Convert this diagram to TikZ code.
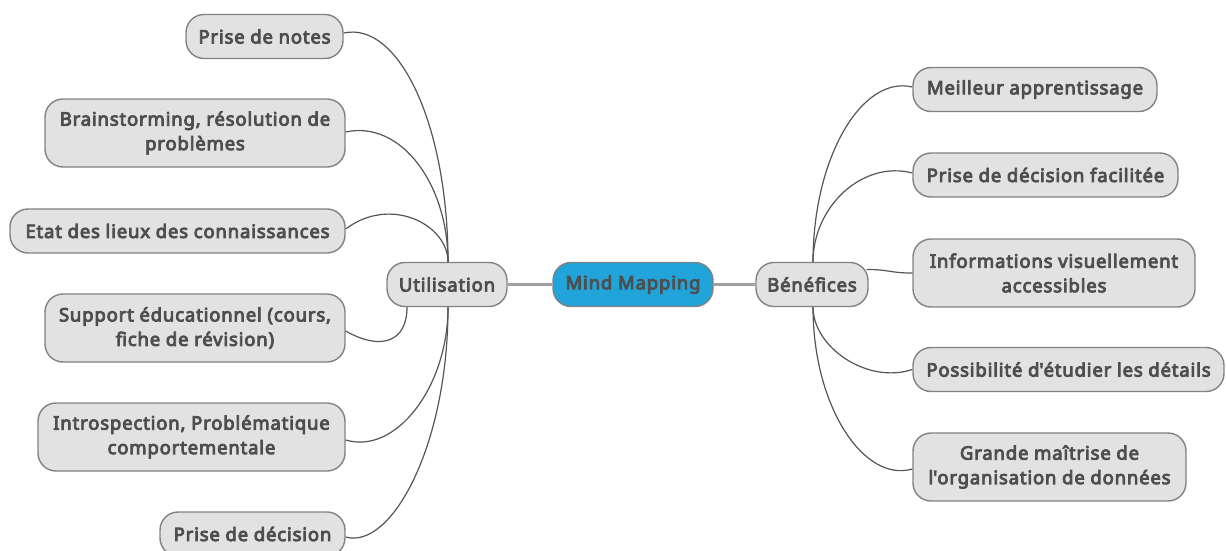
\documentclass[tikz,border=0pt]{standalone}
\usepackage{fontspec}
\setmainfont{Noto Sans}[BoldFont={Noto Sans}, BoldFeatures={FakeBold=4.6, LetterSpace=4.5}]
\definecolor{boxc}{RGB}{226,226,226}
\definecolor{bordc}{RGB}{130,130,130}
\definecolor{txtc}{RGB}{78,78,78}
\definecolor{centc}{RGB}{32,164,218}
\definecolor{linkc}{RGB}{85,85,85}
\definecolor{mainlc}{RGB}{160,160,160}
\begin{document}
\begin{tikzpicture}[x=1pt,y=-1pt,
  box/.style={draw=bordc, fill=boxc, line width=1.4pt, rounded corners=18pt, text=txtc,
    font=\fontsize{18.5}{24.5}\selectfont\bfseries, align=center, inner sep=0pt, minimum height=44pt},
  twoline/.style={box, minimum height=68pt},
  link/.style={draw=linkc, line width=1.2pt},
  mainlink/.style={draw=mainlc, line width=2.8pt}]
\useasboundingbox (0,0) rectangle (1226,551);

% center and branches
\node[box, fill=centc, minimum width=160pt] (mind) at (633,284.5) {Mind Mapping};
\node[box, minimum width=120pt] (util) at (447,284.5) {Utilisation};
\node[box, minimum width=112pt] (bene) at (812,284.5) {Bénéfices};

% left children
\node[box, minimum width=157pt] (notes) at (264.5,36.5) {Prise de notes};
\node[twoline, minimum width=300pt] (brain) at (195,133) {Brainstorming, résolution de\\problèmes};
\node[box, minimum width=335pt] (etat) at (177.5,231) {Etat des lieux des connaissances};
\node[twoline, minimum width=300pt] (support) at (195,328) {Support éducationnel (cours,\\fiche de révision)};
\node[twoline, minimum width=307pt] (intro) at (191.5,437) {Introspection, Problématique\\comportementale};
\node[box, minimum width=185pt] (decis) at (252.5,534) {Prise de décision};

% right children
\node[box, minimum width=244pt] (meil) at (1035,89.5) {Meilleur apprentissage};
\node[box, minimum width=265pt] (facil) at (1045.5,175) {Prise de décision facilitée};
\node[twoline, minimum width=282pt] (info) at (1054,273) {Informations visuellement\\accessibles};
\node[box, minimum width=311pt] (poss) at (1068.5,369.5) {Possibilité d\textquotesingle étudier les détails};
\node[twoline, minimum width=273pt] (grande) at (1049.5,467) {Grande maîtrise de\\l\textquotesingle organisation de données};

% main links
\draw[mainlink] (util.east) -- (mind.west);
\draw[mainlink] (mind.east) -- (bene.west);

% anchor points on branches
\coordinate (ut) at ([xshift=1pt]util.north);
\coordinate (ub) at ([xshift=1pt]util.south);
\coordinate (ubl) at ([xshift=-40pt]util.south);
\coordinate (bt) at ([xshift=1pt]bene.north);
\coordinate (bb) at ([xshift=1pt]bene.south);
\coordinate (br) at ([yshift=15pt,xshift=-2pt]bene.east);

% left links
\draw[link] (ut) .. controls +(0,-137) and +(55,-12) .. ([yshift=3.5pt]notes.east);
\draw[link] (ut) .. controls +(0,-78) and +(55,-12) .. ([yshift=1pt]brain.east);
\draw[link] (ut) .. controls +(0,-37) and +(45,-34) .. ([yshift=2pt]etat.east);
\draw[link] (ubl) .. controls +(0,35) and +(35,20) .. ([yshift=-3pt]support.east);
\draw[link] (ub) .. controls +(0,80) and +(50,15) .. ([yshift=-3pt]intro.east);
\draw[link] (ub) .. controls +(0,140) and +(45,13) .. ([yshift=-3pt]decis.east);

% right links
\draw[link] (bt) .. controls +(0,-105) and +(-50,-12) .. ([yshift=2.5pt]meil.west);
\draw[link] (bt) .. controls +(0,-55) and +(-50,-13) .. ([yshift=2pt]facil.west);
\draw[link] (br) .. controls +(23,0) and +(-23,0) .. (info.west);
\draw[link] (bb) .. controls +(0,40) and +(-45,15) .. (poss.west);
\draw[link] (bb) .. controls +(0,100) and +(-48,14) .. ([yshift=-2pt]grande.west);
\end{tikzpicture}
\end{document}
